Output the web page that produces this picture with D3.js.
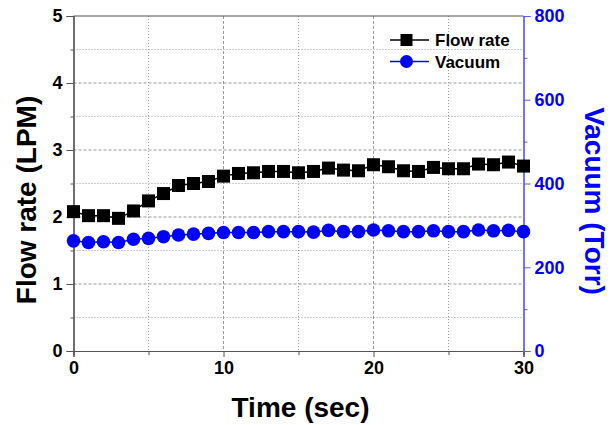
<!DOCTYPE html>
<html><head><meta charset="utf-8">
<script src="https://cdn.jsdelivr.net/npm/d3@7"></script>
<style>body{margin:0;background:#fff}svg{display:block}text{font-family:"Liberation Sans",Arial,sans-serif;font-weight:bold}</style>
</head><body><svg id="c" width="616" height="425"></svg>
<script>
const time = d3.range(0, 31);
const flowRate = [2.08,2.02,2.02,1.98,2.09,2.24,2.35,2.47,2.50,2.53,2.61,2.65,2.66,2.68,2.68,2.66,2.68,2.73,2.70,2.69,2.78,2.75,2.69,2.68,2.74,2.72,2.72,2.79,2.78,2.82,2.76];
const vacuum = [263,259,261,259,267,269,273,277,279,281,283,283,283,285,285,285,284,288,285,285,289,287,285,285,287,285,285,289,287,288,285];
const xTicks = [0,10,20,30], xMinor = [5,15,25];
const yLeftTicks = [0,1,2,3,4,5];
const yRightTicks = [0,200,400,600,800];
const legendLabels = ["Flow rate","Vacuum"];

const svg = d3.select("#c");
const L=73.5, R=523.5, T=16, B=351;
const x = d3.scaleLinear().domain([0,30]).range([L,R]);
const yL = d3.scaleLinear().domain([0,5]).range([B,T]);
const yR = d3.scaleLinear().domain([0,800]).range([B,T]);

// grid
const g = svg.append("g");
d3.range(0.5,5,0.5).forEach(v=>{
  g.append("line").attr("x1",L).attr("x2",R).attr("y1",yL(v)).attr("y2",yL(v))
   .attr("stroke","#9a9a9a").attr("stroke-width",1).attr("stroke-dasharray", Number.isInteger(v)?"3,2":"1,2");
});
[5,10,15,20,25].forEach(v=>{
  g.append("line").attr("x1",x(v)).attr("x2",x(v)).attr("y1",T).attr("y2",B)
   .attr("stroke","#9a9a9a").attr("stroke-width",1).attr("stroke-dasharray", v%10===0?"3,2":"1,2");
});
// top border
svg.append("line").attr("x1",L).attr("x2",R).attr("y1",T).attr("y2",T).attr("stroke","#555");

// axes
const axL = svg.append("g").attr("transform",`translate(${L},0)`)
  .call(d3.axisLeft(yL).tickValues(yLeftTicks).tickSize(7).tickPadding(4).tickFormat(d3.format("d")));
svg.append("g").attr("transform",`translate(${L},0)`)
  .call(d3.axisLeft(yL).tickValues(d3.range(0.5,5,1)).tickSize(3).tickFormat(""));
const axB = svg.append("g").attr("transform",`translate(0,${B})`)
  .call(d3.axisBottom(x).tickValues(xTicks).tickSize(6).tickPadding(4).tickFormat(d3.format("d")));
svg.append("g").attr("transform",`translate(0,${B})`)
  .call(d3.axisBottom(x).tickValues(xMinor).tickSize(4).tickFormat(""));
const axR = svg.append("g").attr("transform",`translate(${R},0)`)
  .call(d3.axisRight(yR).tickValues(yRightTicks).tickSize(7).tickPadding(4).tickFormat(d3.format("d")));
svg.append("g").attr("transform",`translate(${R},0)`)
  .call(d3.axisRight(yR).tickValues([100,300,500,700]).tickSize(4).tickFormat(""));

svg.selectAll(".domain").attr("stroke","#555").attr("stroke-width",1.2);
svg.selectAll(".tick line").attr("stroke","#555");
svg.selectAll(".tick text").attr("font-size",18).attr("font-weight","bold").attr("fill","#000")
  .attr("font-family",'"Liberation Sans",Arial,sans-serif');
axR.selectAll(".tick text").attr("fill","#0000ff");
axR.selectAll(".domain").attr("stroke","#5a5aff");
axR.selectAll(".tick line").attr("stroke","#5a5aff");
svg.selectAll("g").filter(function(){return this.parentNode===svg.node();}).attr("font-family",null);
axR.node().parentNode; 
// minor right ticks colour
svg.selectAll("g").each(function(){
  const t = d3.select(this).attr("transform");
  if (t===`translate(${R},0)`) { d3.select(this).selectAll("line,path").attr("stroke","#5a5aff"); }
});

// series
const lineF = d3.line().x((d,i)=>x(time[i])).y(d=>yL(d));
const lineV = d3.line().x((d,i)=>x(time[i])).y(d=>yR(d));
svg.append("path").attr("d",lineF(flowRate)).attr("fill","none").attr("stroke","#000").attr("stroke-width",1.5);
svg.append("path").attr("d",lineV(vacuum)).attr("fill","none").attr("stroke","#0000ff").attr("stroke-width",1.5);
const s=13;
svg.selectAll(".sq").data(flowRate).enter().append("rect")
  .attr("x",(d,i)=>x(time[i])-s/2).attr("y",d=>yL(d)-s/2).attr("width",s).attr("height",s).attr("fill","#000");
svg.selectAll(".ci").data(vacuum).enter().append("circle")
  .attr("cx",(d,i)=>x(time[i])).attr("cy",d=>yR(d)).attr("r",6.8).attr("fill","#0000ff");

// legend
const lg = svg.append("g");
[0,1].forEach(i=>{
  const yy = 40 + i*21.5;
  const col = i===0?"#000":"#0000ff";
  lg.append("line").attr("x1",390).attr("x2",429).attr("y1",yy).attr("y2",yy).attr("stroke",col).attr("stroke-width",1.5);
  if(i===0) lg.append("rect").attr("x",406.5-6).attr("y",yy-6).attr("width",12).attr("height",12).attr("fill","#000");
  else lg.append("circle").attr("cx",406.5).attr("cy",yy).attr("r",6.5).attr("fill","#0000ff");
  lg.append("text").attr("x",435).attr("y",yy+6).attr("font-size",17).attr("fill","#000").text(legendLabels[i]);
});

// titles
svg.append("text").attr("x",(L+R)/2+2).attr("y",417).attr("text-anchor","middle").attr("font-size",28).text("Time (sec)");
svg.append("text").attr("transform","translate(36,200) rotate(-90)").attr("text-anchor","middle").attr("font-size",28).text("Flow rate (LPM)");
svg.append("text").attr("transform","translate(585,201) rotate(90)").attr("text-anchor","middle").attr("font-size",28).attr("fill","#0000ff").text("Vacuum (Torr)");
</script></body></html>
